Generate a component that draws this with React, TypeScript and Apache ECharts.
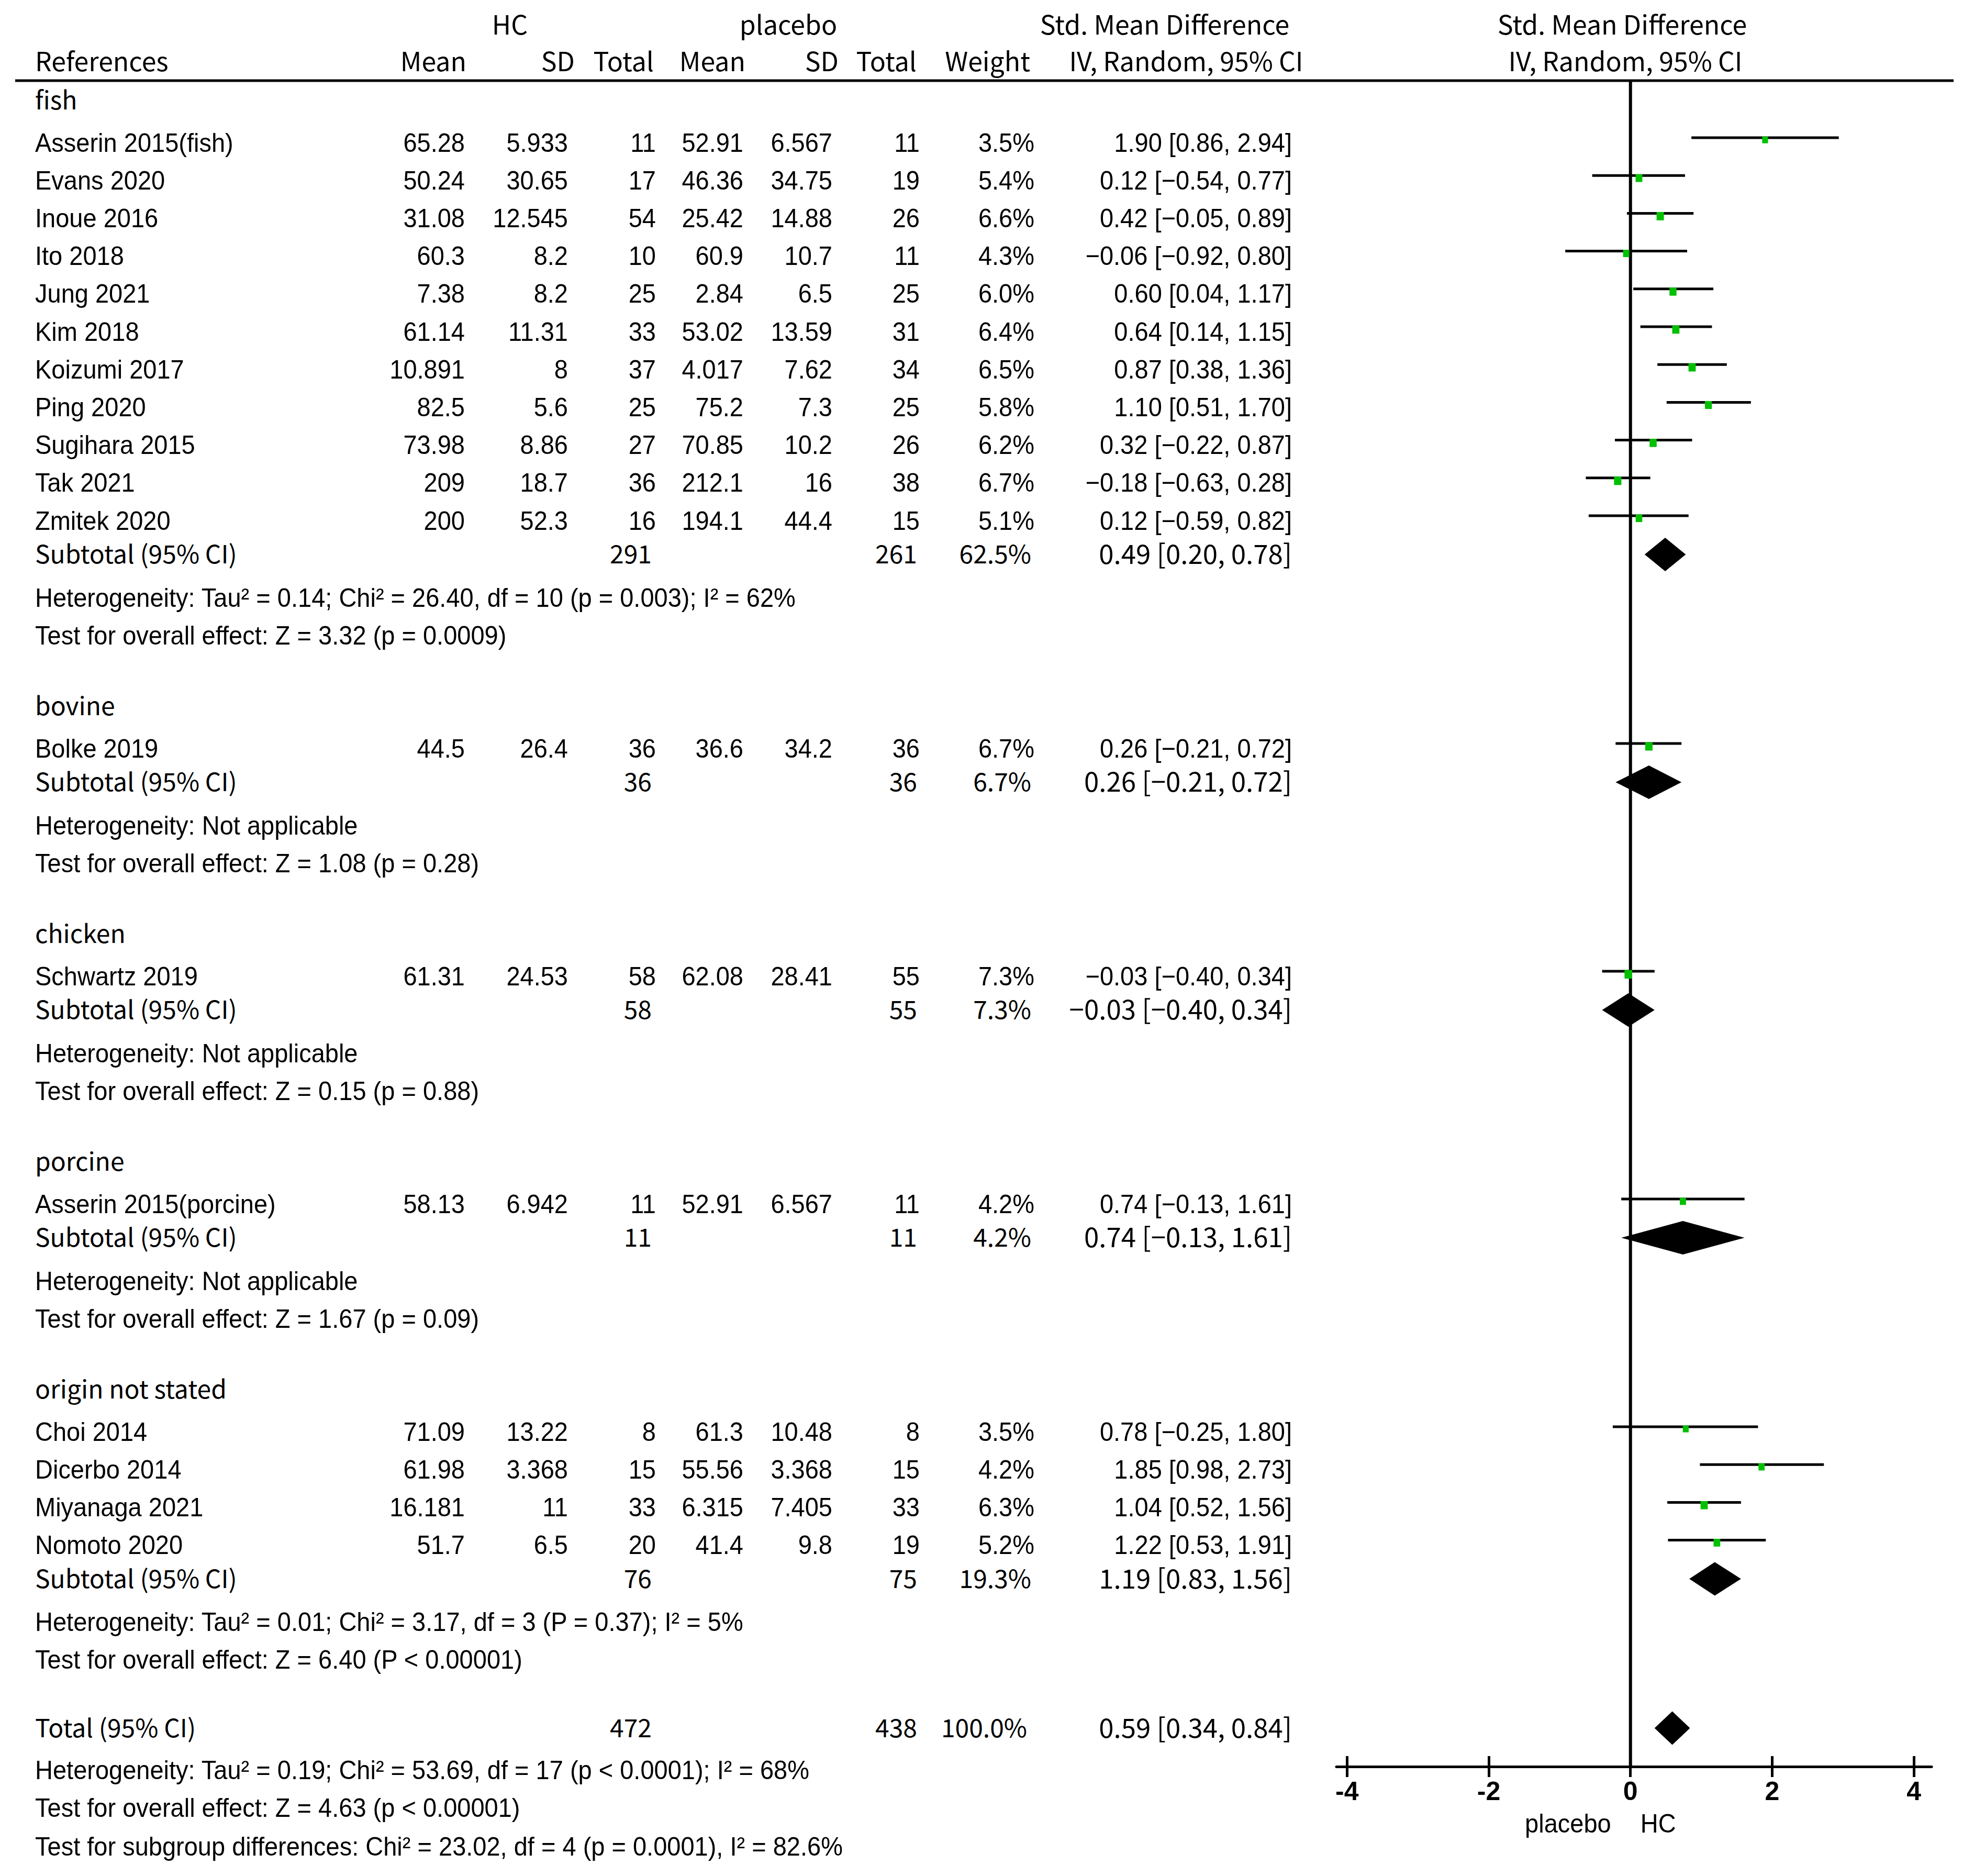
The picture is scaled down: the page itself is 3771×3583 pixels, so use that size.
import React, { useEffect, useRef } from "react";
import * as echarts from "echarts";

// ---------------- DATA ----------------
const groupNames = ["fish", "bovine", "chicken", "porcine", "origin not stated"];

const studyNames = [
  "Asserin 2015(fish)", "Evans 2020", "Inoue 2016", "Ito 2018", "Jung 2021", "Kim 2018",
  "Koizumi 2017", "Ping 2020", "Sugihara 2015", "Tak 2021", "Zmitek 2020",
  "Bolke 2019",
  "Schwartz 2019",
  "Asserin 2015(porcine)",
  "Choi 2014", "Dicerbo 2014", "Miyanaga 2021", "Nomoto 2020",
];
const studyGroup = [0, 0, 0, 0, 0, 0, 0, 0, 0, 0, 0, 1, 2, 3, 4, 4, 4, 4];
const hcMean = [65.28, 50.24, 31.08, 60.3, 7.38, 61.14, 10.891, 82.5, 73.98, 209, 200, 44.5, 61.31, 58.13, 71.09, 61.98, 16.181, 51.7];
const hcSD = [5.933, 30.65, 12.545, 8.2, 8.2, 11.31, 8, 5.6, 8.86, 18.7, 52.3, 26.4, 24.53, 6.942, 13.22, 3.368, 11, 6.5];
const hcTotal = [11, 17, 54, 10, 25, 33, 37, 25, 27, 36, 16, 36, 58, 11, 8, 15, 33, 20];
const plMean = [52.91, 46.36, 25.42, 60.9, 2.84, 53.02, 4.017, 75.2, 70.85, 212.1, 194.1, 36.6, 62.08, 52.91, 61.3, 55.56, 6.315, 41.4];
const plSD = [6.567, 34.75, 14.88, 10.7, 6.5, 13.59, 7.62, 7.3, 10.2, 16, 44.4, 34.2, 28.41, 6.567, 10.48, 3.368, 7.405, 9.8];
const plTotal = [11, 19, 26, 11, 25, 31, 34, 25, 26, 38, 15, 36, 55, 11, 8, 15, 33, 19];
const weights = [3.5, 5.4, 6.6, 4.3, 6.0, 6.4, 6.5, 5.8, 6.2, 6.7, 5.1, 6.7, 7.3, 4.2, 3.5, 4.2, 6.3, 5.2];
const smd = [1.90, 0.12, 0.42, -0.06, 0.60, 0.64, 0.87, 1.10, 0.32, -0.18, 0.12, 0.26, -0.03, 0.74, 0.78, 1.85, 1.04, 1.22];
const ciLow = [0.86, -0.54, -0.05, -0.92, 0.04, 0.14, 0.38, 0.51, -0.22, -0.63, -0.59, -0.21, -0.40, -0.13, -0.25, 0.98, 0.52, 0.53];
const ciHigh = [2.94, 0.77, 0.89, 0.80, 1.17, 1.15, 1.36, 1.70, 0.87, 0.28, 0.82, 0.72, 0.34, 1.61, 1.80, 2.73, 1.56, 1.91];

const subHcTotal = [291, 36, 58, 11, 76];
const subPlTotal = [261, 36, 55, 11, 75];
const subWeight = [62.5, 6.7, 7.3, 4.2, 19.3];
const subSmd = [0.49, 0.26, -0.03, 0.74, 1.19];
const subLow = [0.20, -0.21, -0.40, -0.13, 0.83];
const subHigh = [0.78, 0.72, 0.34, 1.61, 1.56];
const hetTexts = [
  "Heterogeneity: Tau\u00b2 = 0.14; Chi\u00b2 = 26.40, df = 10 (p = 0.003); I\u00b2 = 62%",
  "Heterogeneity: Not applicable",
  "Heterogeneity: Not applicable",
  "Heterogeneity: Not applicable",
  "Heterogeneity: Tau\u00b2 = 0.01; Chi\u00b2 = 3.17, df = 3 (P = 0.37); I\u00b2 = 5%",
];
const testTexts = [
  "Test for overall effect: Z = 3.32 (p = 0.0009)",
  "Test for overall effect: Z = 1.08 (p = 0.28)",
  "Test for overall effect: Z = 0.15 (p = 0.88)",
  "Test for overall effect: Z = 1.67 (p = 0.09)",
  "Test for overall effect: Z = 6.40 (P < 0.00001)",
];

const totalHc = 472;
const totalPl = 438;
const totalWeight = 100.0;
const totalSmd = 0.59;
const totalLow = 0.34;
const totalHigh = 0.84;
const totalTexts = [
  "Heterogeneity: Tau\u00b2 = 0.19; Chi\u00b2 = 53.69, df = 17 (p < 0.0001); I\u00b2 = 68%",
  "Test for overall effect: Z = 4.63 (p < 0.00001)",
  "Test for subgroup differences: Chi\u00b2 = 23.02, df = 4 (p = 0.0001), I\u00b2 = 82.6%",
];

const xTicks = [-4, -2, 0, 2, 4];

// ---------------- LAYOUT ----------------
const W = 3771;
const H = 3583;
const AXIS_Y = 3374;
const HEAD_LINE_Y = 154;
const FONT_DATA = '"Liberation Sans", Arial, Helvetica, sans-serif';
const FONT_HEAD = '"Noto Sans CJK SC", "Noto Sans", sans-serif';
const DATA_SIZE = 50;
const DATA_SCALE = 0.94;
const HEAD_SIZE = 50;
const SUB_SIZE = 48;
const SUB_CI_SIZE = 51;

const COL = {
  name: 67,
  hcMean: 888,
  hcSD: 1085,
  hcTotal: 1253,
  plMean: 1420,
  plSD: 1590,
  plTotal: 1757,
  weight: 1976,
  ci: 2468,
};

const fmt = (v: number, d: number) => v.toFixed(d).replace("-", "\u2212");
const ciText = (e: number, l: number, h: number) => `${fmt(e, 2)} [${fmt(l, 2)}, ${fmt(h, 2)}]`;

type Cell = { x: number; text: string; align: string; font: string; size: number; sx: number; dy: number };
type Row = { y: number; cells: Cell[] };

const dCell = (x: number, text: string, align = "right"): Cell => ({ x, text, align, font: FONT_DATA, size: DATA_SIZE, sx: DATA_SCALE, dy: 0 });
const hCell = (x: number, text: string, align = "right", size = HEAD_SIZE): Cell => ({ x, text, align, font: FONT_HEAD, size, sx: 1, dy: -4 });

const ROWS: Row[] = [];
const STUDY_Y: number[] = [];
const SUB_Y: number[] = [];

// headers
ROWS.push({
  y: 48,
  cells: [
    hCell(974, "HC", "center"),
    hCell(1506, "placebo", "center"),
    hCell(2225, "Std. Mean Difference", "center"),
    hCell(3099, "Std. Mean Difference", "center"),
  ],
});
ROWS.push({
  y: 118,
  cells: [
    hCell(COL.name, "References", "left"),
    hCell(891, "Mean"),
    hCell(1098, "SD"),
    hCell(1249, "Total"),
    hCell(1424, "Mean"),
    hCell(1602, "SD"),
    hCell(1751, "Total"),
    hCell(1968, "Weight"),
    hCell(2266, "IV, Random, 95% CI", "center"),
    hCell(3105, "IV, Random, 95% CI", "center"),
  ],
});

let cursor = 192;
groupNames.forEach((g, gi) => {
  ROWS.push({ y: cursor, cells: [hCell(COL.name, g, "left", SUB_SIZE)] });
  const y = cursor + 80;
  const idx = studyNames.map((_, i) => i).filter((i) => studyGroup[i] === gi);
  idx.forEach((i, k) => {
    const yy = y + k * 72.2;
    STUDY_Y[i] = yy;
    ROWS.push({
      y: yy,
      cells: [
        dCell(COL.name, studyNames[i], "left"),
        dCell(COL.hcMean, String(hcMean[i])),
        dCell(COL.hcSD, String(hcSD[i])),
        dCell(COL.hcTotal, String(hcTotal[i])),
        dCell(COL.plMean, String(plMean[i])),
        dCell(COL.plSD, String(plSD[i])),
        dCell(COL.plTotal, String(plTotal[i])),
        dCell(COL.weight, weights[i].toFixed(1) + "%"),
        dCell(COL.ci, ciText(smd[i], ciLow[i], ciHigh[i])),
      ],
    });
  });
  const subY = y + (idx.length - 1) * 72.2 + 65;
  SUB_Y[gi] = subY;
  ROWS.push({
    y: subY,
    cells: [
      hCell(COL.name, "Subtotal (95% CI)", "left", SUB_SIZE),
      hCell(1245, String(subHcTotal[gi]), "right", SUB_SIZE),
      hCell(1752, String(subPlTotal[gi]), "right", SUB_SIZE),
      hCell(1970, subWeight[gi].toFixed(1) + "%", "right", SUB_SIZE),
      hCell(COL.ci, ciText(subSmd[gi], subLow[gi], subHigh[gi]), "right", SUB_CI_SIZE),
    ],
  });
  ROWS.push({ y: subY + 82, cells: [dCell(COL.name, hetTexts[gi], "left")] });
  ROWS.push({ y: subY + 154, cells: [dCell(COL.name, testTexts[gi], "left")] });
  cursor = subY + 154 + 136;
});
const TOTAL_Y = cursor - 5;
ROWS.push({
  y: TOTAL_Y,
  cells: [
    hCell(COL.name, "Total (95% CI)", "left", SUB_SIZE),
    hCell(1245, String(totalHc), "right", SUB_SIZE),
    hCell(1752, String(totalPl), "right", SUB_SIZE),
    hCell(1962, totalWeight.toFixed(1) + "%", "right", SUB_SIZE),
    hCell(COL.ci, ciText(totalSmd, totalLow, totalHigh), "right", SUB_CI_SIZE),
  ],
});
ROWS.push({ y: TOTAL_Y + 80, cells: [dCell(COL.name, totalTexts[0], "left")] });
ROWS.push({ y: TOTAL_Y + 152, cells: [dCell(COL.name, totalTexts[1], "left")] });
ROWS.push({ y: TOTAL_Y + 226, cells: [dCell(COL.name, totalTexts[2], "left")] });

const GRID_LEFT = 2553;
const GRID_W = 1137;

export default function App() {
  const ref = useRef<HTMLDivElement>(null);
  useEffect(() => {
    if (!ref.current) return;
    const chart = echarts.init(ref.current, undefined, { renderer: "svg" });

    const studyData = studyNames.map((_, i) => [smd[i], ciLow[i], ciHigh[i], STUDY_Y[i], weights[i]]);
    const diamondData = groupNames.map((_, gi) => [subSmd[gi], subLow[gi], subHigh[gi], SUB_Y[gi]]);
    diamondData.push([totalSmd, totalLow, totalHigh, TOTAL_Y]);

    const option: any = {
      animation: false,
      backgroundColor: "#ffffff",
      grid: { left: GRID_LEFT, width: GRID_W, top: 0, height: AXIS_Y },
      xAxis: [
        {
          type: "value",
          min: -4.15,
          max: 4.25,
          position: "bottom",
          axisLine: { show: true, onZero: false, lineStyle: { color: "#000", width: 5 } },
          axisTick: { show: true, customValues: xTicks, length: 20, inside: false, lineStyle: { color: "#000", width: 5 } },
          axisLabel: {
            show: true,
            customValues: xTicks,
            margin: 22,
            fontSize: 50,
            fontFamily: FONT_DATA,
            fontWeight: "bold",
            color: "#000",
            formatter: (v: number) => String(v),
          },
          splitLine: { show: false },
        },
        {
          type: "value",
          min: -4.15,
          max: 4.25,
          position: "bottom",
          axisLine: { show: false, onZero: false },
          axisTick: { show: true, customValues: xTicks, length: 20, inside: true, lineStyle: { color: "#000", width: 5 } },
          axisLabel: { show: false },
          splitLine: { show: false },
        },
      ],
      yAxis: { type: "value", inverse: true, min: 0, max: AXIS_Y, show: false },
      graphic: [
        { type: "line", shape: { x1: 29, y1: HEAD_LINE_Y, x2: 3732, y2: HEAD_LINE_Y }, style: { stroke: "#000", lineWidth: 5 } },
      ],
      series: [
        {
          type: "custom",
          name: "zero",
          clip: false,
          data: [[0, HEAD_LINE_Y, AXIS_Y]],
          encode: { x: 0, y: [1, 2] },
          renderItem: (p: any, api: any) => {
            const a = api.coord([api.value(0), api.value(1)]);
            const b = api.coord([api.value(0), api.value(2)]);
            return { type: "line", shape: { x1: a[0], y1: a[1], x2: b[0], y2: b[1] }, style: { stroke: "#000", lineWidth: 6 } };
          },
        },
        {
          type: "custom",
          name: "studies",
          clip: false,
          data: studyData,
          encode: { x: [0, 1, 2], y: 3 },
          renderItem: (p: any, api: any) => {
            const y = api.value(3);
            const pl = api.coord([api.value(1), y]);
            const ph = api.coord([api.value(2), y]);
            const pe = api.coord([api.value(0), y]);
            const ly = pl[1] - 9;
            const sw = 8 + 0.9 * api.value(4);
            const sh = sw + 2;
            return {
              type: "group",
              children: [
                { type: "line", shape: { x1: pl[0], y1: ly, x2: ph[0], y2: ly }, style: { stroke: "#000", lineWidth: 5 } },
                { type: "rect", shape: { x: pe[0] - sw / 2, y: ly - 2.5, width: sw, height: sh }, style: { fill: "#00C000" } },
              ],
            };
          },
        },
        {
          type: "custom",
          name: "diamonds",
          clip: false,
          data: diamondData,
          encode: { x: [0, 1, 2], y: 3 },
          renderItem: (p: any, api: any) => {
            const y = api.value(3);
            const pl = api.coord([api.value(1), y]);
            const ph = api.coord([api.value(2), y]);
            const pe = api.coord([api.value(0), y]);
            return {
              type: "polygon",
              shape: { points: [[pl[0], pl[1]], [pe[0], pe[1] - 32], [ph[0], ph[1]], [pe[0], pe[1] + 32]] },
              style: { fill: "#000" },
            };
          },
        },
        {
          type: "custom",
          name: "table",
          clip: false,
          silent: true,
          data: ROWS.map((r) => [0, r.y]),
          encode: { x: 0, y: 1 },
          renderItem: (p: any, api: any) => {
            const r = ROWS[p.dataIndex];
            const py = api.coord([0, r.y])[1];
            return {
              type: "group",
              children: r.cells.map((c) => ({
                type: "text",
                x: c.x,
                y: py + c.dy,
                scaleX: c.sx,
                style: {
                  text: c.text,
                  fill: "#000",
                  fontSize: c.size,
                  fontFamily: c.font,
                  align: c.align,
                  verticalAlign: "middle",
                },
              })),
            };
          },
        },
        {
          type: "custom",
          name: "favours",
          clip: false,
          silent: true,
          data: [[0, 3482]],
          encode: { x: 0, y: 1 },
          renderItem: (p: any, api: any) => {
            const c = api.coord([api.value(0), api.value(1)]);
            return {
              type: "group",
              children: [
                { type: "text", x: c[0] - 37, y: c[1], scaleX: DATA_SCALE, style: { text: "placebo", fill: "#000", fontSize: DATA_SIZE, fontFamily: FONT_DATA, align: "right", verticalAlign: "middle" } },
                { type: "text", x: c[0] + 19, y: c[1], scaleX: DATA_SCALE, style: { text: "HC", fill: "#000", fontSize: DATA_SIZE, fontFamily: FONT_DATA, align: "left", verticalAlign: "middle" } },
              ],
            };
          },
        },
      ],
    };
    chart.setOption(option);
    return () => chart.dispose();
  }, []);
  return (
    <div
      ref={ref}
      style={{ position: "absolute", left: 0, top: 0, width: W, height: H, background: "#fff" }}
    />
  );
}
